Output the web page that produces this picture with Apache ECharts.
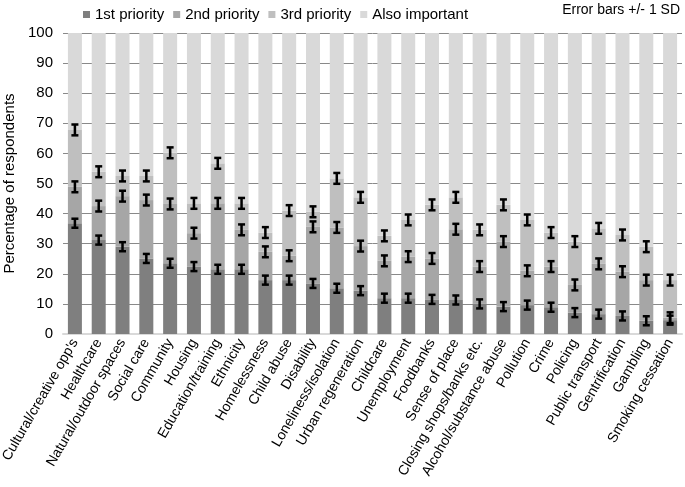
<!DOCTYPE html>
<html>
<head>
<meta charset="utf-8">
<script src="https://cdn.jsdelivr.net/npm/echarts@6/dist/echarts.min.js"></script>
<style>
html,body{margin:0;padding:0;background:#fff;}
#chart{width:685px;height:487px;}
</style>
</head>
<body>
<div id="chart"></div>
<script>
const categories = ["Cultural/creative opp's","Healthcare","Natural/outdoor spaces","Social care","Community","Housing","Education/training","Ethnicity","Homelessness","Child abuse","Disability","Loneliness/isolation","Urban regeneration","Childcare","Unemployment","Foodbanks","Sense of place","Closing shops/banks etc.","Alcohol/substance abuse","Pollution","Crime","Policing","Public transport","Gentrification","Gambling","Smoking cessation"];
const seriesNames = ["1st priority","2nd priority","3rd priority","Also important"];
const firstPriority  = [36.8,31.2,29.0,25.1,23.5,22.4,21.5,21.5,17.9,17.9,16.8,15.2,14.4,11.9,11.9,11.5,11.3,10.0,9.1,9.6,8.9,7.1,6.6,6.0,4.4,4.6];
const secondPriority = [12.1,11.3,16.8,19.4,19.7,11.1,21.9,13.1,9.4,8.1,18.8,20.2,14.8,12.4,13.8,13.6,23.5,12.4,21.6,11.4,13.5,9.2,16.7,14.7,13.5,0.8];
const thirdPriority  = [18.9,11.4,6.7,8.0,17.0,9.9,13.3,8.8,6.4,15.0,5.0,16.3,16.2,8.3,12.2,17.8,10.6,12.2,12.2,16.9,11.3,14.4,11.8,12.2,11.1,12.5];
const alsoImportant  = [32.2,46.1,47.5,47.5,39.8,56.6,43.3,56.6,66.3,59.0,59.4,48.3,54.6,67.4,62.1,57.1,54.6,65.4,57.1,62.1,66.3,69.3,64.9,67.1,71.0,82.1];
const sdFirst  = [1.5,1.5,1.5,1.5,1.5,1.5,1.5,1.5,1.5,1.5,1.5,1.5,1.5,1.5,1.5,1.5,1.5,1.5,1.5,1.5,1.5,1.5,1.5,1.5,1.5,1.5];
const sdSecond = [1.8,1.8,1.8,1.8,1.8,1.8,1.8,1.8,1.8,1.8,1.8,1.8,1.8,1.8,1.8,1.8,1.8,1.8,1.8,1.8,1.8,1.8,1.8,1.8,1.8,1.8];
const sdThird  = [1.8,1.8,1.8,1.8,1.8,1.8,1.8,1.8,1.8,1.8,1.8,1.8,1.8,1.8,1.8,1.8,1.8,1.8,1.8,1.8,1.8,1.8,1.8,1.8,1.8,1.8];
const yTicks = [0,10,20,30,40,50,60,70,80,90,100];

const colors = ['#7f7f7f','#a6a6a6','#bfbfbf','#d9d9d9'];
const FONT = 'Liberation Sans, Arial, sans-serif';

// error bar data: [categoryIndex, cumulativeTop, low, high]
const errData = [];
const stacks = [firstPriority, secondPriority, thirdPriority];
const sds = [sdFirst, sdSecond, sdThird];
categories.forEach((c, i) => {
  let cum = 0;
  for (let s = 0; s < 3; s++) {
    cum += stacks[s][i];
    errData.push([i, cum, cum - sds[s][i], cum + sds[s][i]]);
  }
});

const chart = echarts.init(document.getElementById('chart'), null, {renderer: 'canvas'});
const barSeries = [firstPriority, secondPriority, thirdPriority, alsoImportant].map((d, k) => ({
  name: seriesNames[k],
  type: 'bar',
  stack: 'total',
  data: d,
  barWidth: 14,
  itemStyle: {color: colors[k]},
  emphasis: {disabled: true},
  animation: false
}));

chart.setOption({
  animation: false,
  textStyle: {fontFamily: FONT},
  legend: {
    left: 78, top: 2,
    itemWidth: 7, itemHeight: 7, itemGap: 9,
    icon: 'rect',
    data: seriesNames,
    textStyle: {fontSize: 15, color: '#000', fontFamily: FONT}
  },
  graphic: [{
    type: 'text', right: 5, top: 3,
    style: {text: 'Error bars +/- 1 SD', fontSize: 14, fill: '#000', fontFamily: FONT}
  }],
  grid: {left: 63, right: 3, top: 33, bottom: 153, containLabel: false, outerBoundsMode: 'none'},
  xAxis: {
    type: 'category',
    data: categories,
    axisLine: {show: true, lineStyle: {color: '#d9d9d9', width: 2}},
    axisTick: {show: false},
    axisLabel: {interval: 0, rotate: 60, fontSize: 14, color: '#000', fontFamily: FONT, margin: 6}
  },
  yAxis: {
    type: 'value', min: 0, max: 100, interval: 10,
    name: 'Percentage of respondents',
    nameLocation: 'middle', nameGap: 43, nameRotate: 90,
    nameTextStyle: {fontSize: 15, color: '#000', fontFamily: FONT},
    axisLine: {show: false}, axisTick: {show: false},
    axisLabel: {fontSize: 15, color: '#000', margin: 10, fontFamily: FONT,
      formatter: v => yTicks.indexOf(v) >= 0 ? String(v) : ''},
    splitLine: {lineStyle: {color: '#898989', width: 1}}
  },
  series: barSeries.concat([{
    type: 'custom',
    name: 'err',
    data: errData,
    z: 10,
    silent: true,
    renderItem: function (params, api) {
      const x = api.value(0);
      const lo = api.coord([x, api.value(2)]);
      const hi = api.coord([x, api.value(3)]);
      const hw = 3.5;
      const st = {stroke: '#000', lineWidth: 2.5};
      return {
        type: 'group',
        children: [
          {type: 'line', shape: {x1: lo[0], y1: lo[1], x2: hi[0], y2: hi[1]}, style: st},
          {type: 'line', shape: {x1: lo[0]-hw, y1: lo[1], x2: lo[0]+hw, y2: lo[1]}, style: st},
          {type: 'line', shape: {x1: hi[0]-hw, y1: hi[1], x2: hi[0]+hw, y2: hi[1]}, style: st}
        ]
      };
    }
  }])
});
</script>
</body>
</html>
